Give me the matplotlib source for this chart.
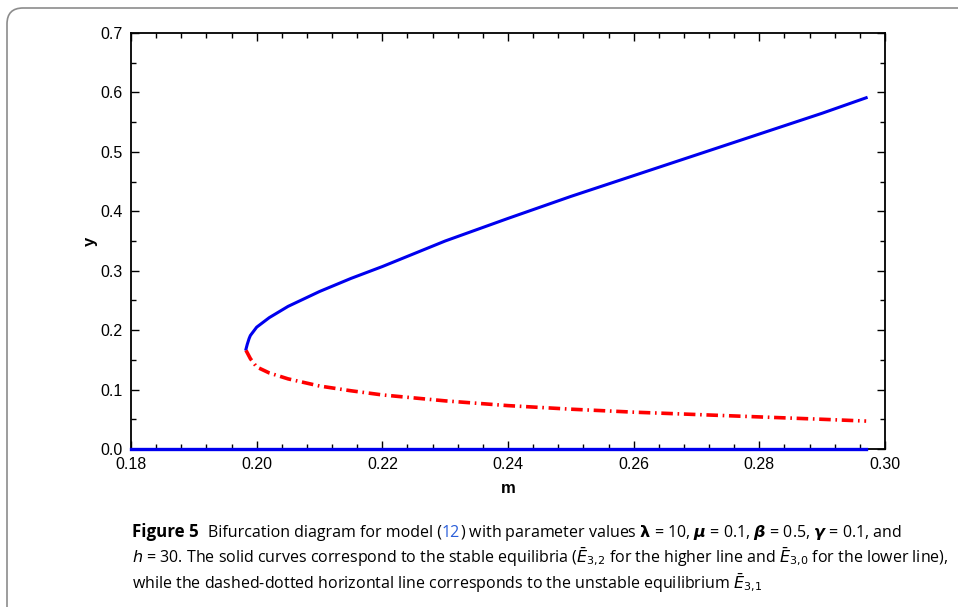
import matplotlib
matplotlib.use("Agg")
import matplotlib.pyplot as plt
from matplotlib.patches import PathPatch
from matplotlib.path import Path
from matplotlib.ticker import MultipleLocator, FormatStrFormatter

# stable upper branch
m_upper = [0.1983, 0.1985, 0.1988, 0.199, 0.200, 0.202, 0.205, 0.210, 0.215, 0.220,
           0.230, 0.240, 0.250, 0.260, 0.270, 0.280, 0.290, 0.297]
y_upper = [0.168, 0.176, 0.186, 0.191, 0.205, 0.221, 0.240, 0.265, 0.287, 0.307,
           0.350, 0.388, 0.425, 0.460, 0.495, 0.530, 0.565, 0.591]

# unstable middle branch
m_mid = [0.1983, 0.199, 0.200, 0.202, 0.205, 0.210, 0.215, 0.220, 0.230,
         0.240, 0.250, 0.260, 0.270, 0.280, 0.290, 0.297]
y_mid = [0.166, 0.152, 0.138, 0.128, 0.118, 0.106, 0.098, 0.091, 0.081,
         0.073, 0.067, 0.062, 0.058, 0.054, 0.050, 0.047]

# stable zero branch
m_zero = [0.18, 0.297]
y_zero = [0.0, 0.0]

W, H = 958, 607
fig = plt.figure(figsize=(W / 100, H / 100), dpi=100)
plt.rcParams['font.family'] = ['Liberation Sans', 'DejaVu Sans']


def fx(px):
    return px / W


def fy(py):
    return 1 - py / H


# panel border: left and top edges with a rounded corner
verts = [(fx(7), fy(640)), (fx(7), fy(24)), (fx(7), fy(8)), (fx(23), fy(8)), (fx(1000), fy(8))]
codes = [Path.MOVETO, Path.LINETO, Path.CURVE3, Path.CURVE3, Path.LINETO]
fig.patches.append(PathPatch(Path(verts, codes), transform=fig.transFigure, fill=False,
                             edgecolor='#8c8c8c', linewidth=1.2, clip_on=False))

ax = fig.add_axes([fx(131), fy(449), 754 / W, 416 / H])

ax.plot(m_upper, y_upper, color='#0000ee', linewidth=2.2, zorder=3)
ax.plot(m_mid, y_mid, color='#ff0000', linewidth=2.6, dashes=(3.2, 1.3, 0.45, 1.3), zorder=3)
ax.plot(m_zero, y_zero, color='#0000ee', linewidth=2.4, clip_on=False, zorder=4)

ax.set_xlim(0.18, 0.30)
ax.set_ylim(0.0, 0.7)
ax.xaxis.set_major_locator(MultipleLocator(0.02))
ax.xaxis.set_minor_locator(MultipleLocator(0.004))
ax.yaxis.set_major_locator(MultipleLocator(0.1))
ax.yaxis.set_minor_locator(MultipleLocator(0.05))
ax.xaxis.set_major_formatter(FormatStrFormatter('%.2f'))
ax.yaxis.set_major_formatter(FormatStrFormatter('%.1f'))
ax.tick_params(which='both', direction='in', top=True, right=True, labelsize=11.5,
               width=1.0, color='black')
ax.tick_params(which='major', length=6, pad=6)
ax.tick_params(which='minor', length=3.5)
for s in ax.spines.values():
    s.set_linewidth(1.3)

ax.set_xlabel('m', fontweight='bold', fontsize=12, labelpad=6)
ax.set_ylabel('y', fontweight='bold', fontsize=12, labelpad=2)

# caption
cap_font = ['Open Sans', 'DejaVu Sans']
fig.canvas.draw()
r = fig.canvas.get_renderer()


def put(x, y, s, size=11.5, **kw):
    t = fig.text(x, y, s, fontsize=size, family=cap_font, va='baseline', **kw)
    return t.get_window_extent(r).x1 / W


y1, y2, y3 = fy(537), fy(563), fy(589)
x = put(fx(132), y1, 'Figure 5', size=12.2, fontweight='bold')
x = put(x + fx(9), y1, 'Bifurcation diagram for model (')
x = put(x, y1, '12', color='#2b5fd9')
put(x, y1, r') with parameter values $\boldsymbol{\lambda}$ = 10, $\boldsymbol{\mu}$ = 0.1, '
    r'$\boldsymbol{\beta}$ = 0.5, $\boldsymbol{\gamma}$ = 0.1, and')
put(fx(132), y2, r'$h$ = 30. The solid curves correspond to the stable equilibria '
    r'($\bar{E}_{3{,}2}$ for the higher line and $\bar{E}_{3{,}0}$ for the lower line),')
put(fx(132), y3, r'while the dashed-dotted horizontal line corresponds to the unstable '
    r'equilibrium $\bar{E}_{3{,}1}$')

fig.savefig('out.png', dpi=100)
